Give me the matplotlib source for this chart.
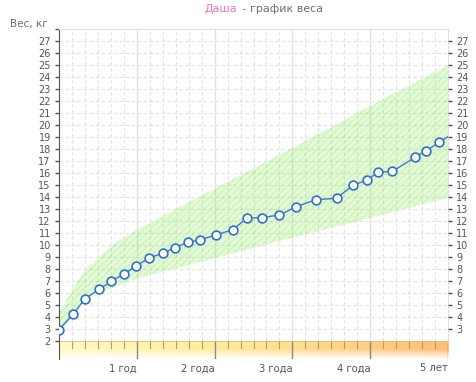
import numpy as np
import matplotlib
matplotlib.use("Agg")
import matplotlib.pyplot as plt

# возраст в месяцах и вес в кг
ages = [0, 2.2, 4.05, 6.2, 8.05, 10.05, 11.9, 13.9, 16.0, 17.9, 19.9, 21.8, 24.2,
        26.8, 29.0, 31.3, 34.0, 36.5, 39.6, 42.8, 45.3, 47.5, 49.2, 51.4, 54.9,
        56.6, 58.6, 61.0]
weights = [2.92, 4.22, 5.53, 6.3, 6.97, 7.58, 8.25, 8.92, 9.31, 9.78, 10.22, 10.44,
           10.83, 11.28, 12.24, 12.28, 12.5, 13.17, 13.78, 13.89, 14.97, 15.42,
           16.06, 16.14, 17.31, 17.86, 18.56, 19.4]

# границы нормы
norm_ages = [0, 2, 4, 8, 12, 24, 36, 48, 60]
norm_upper = [4.3, 6.2, 7.9, 9.9, 11.25, 14.7, 18.1, 21.6, 25.0]
norm_lower = [2.4, 4.0, 5.4, 6.35, 7.2, 8.9, 10.6, 12.25, 13.95]

year_ticks = [12, 24, 36, 48, 60]
year_labels = ["1 год", "2 года", "3 года", "4 года", "5 лет"]

W, H = 476, 382
fig = plt.figure(figsize=(W / 100, H / 100), dpi=100)
plt.rcParams["hatch.linewidth"] = 0.5

left, right, top, bottom = 58.7, 448.3, 29, 341
ax = fig.add_axes([left / W, 1 - bottom / H, (right - left) / W, (bottom - top) / H])
ax.set_xlim(0, 60)
ax.set_ylim(2, 28)

# сетка
dash = (0, (3.0, 2.4))
for y in range(3, 28):
    ax.axhline(y, color="#e2e2e2", lw=0.8, ls=dash, zorder=0.5)
for m in range(2, 60, 2):
    if m % 12 == 0:
        ax.axvline(m, color="#e2e2e2", lw=1, zorder=0.6)
    else:
        ax.axvline(m, color="#e2e2e2", lw=0.8, ls=dash, zorder=0.5)

ax.fill_between(norm_ages, norm_lower, norm_upper, facecolor=(0.55, 0.93, 0.35),
                alpha=0.25, edgecolor="#6cc830", hatch="/////", lw=0, zorder=1)

ax.plot(ages, weights, color="#3a7ad6", lw=1, zorder=3,
        marker="o", ms=6.3, mfc="white", mec="#2f70cc", mew=1.2)

ax.set_yticks(range(2, 29))
ax.set_yticklabels([str(v) for v in range(2, 28)] + [""])
ax.tick_params(axis="y", length=3.2, width=1, color="#555", labelcolor="#555",
               labelsize=7, pad=2.5)
ax.tick_params(axis="x", bottom=False, labelbottom=False)
ax.spines["left"].set_color("#555")
for s in ["top", "right"]:
    ax.spines[s].set_color("#e0e0e0")
ax.spines["bottom"].set_visible(False)

ax2 = ax.twinx()
ax2.set_ylim(2, 28)
ax2.set_yticks(range(3, 28))
ax2.tick_params(axis="y", length=3.2, width=1, color="#555", labelcolor="#555",
                labelsize=7, pad=2.5)
for s in ax2.spines.values():
    s.set_visible(False)

# шкала возраста снизу
band_bottom = 359
bx = fig.add_axes([left / W, 1 - band_bottom / H, (right - left) / W, (band_bottom - bottom) / H])
stops = np.array([[255, 249, 200], [255, 244, 178], [255, 236, 158],
                  [255, 222, 145], [255, 205, 135], [255, 188, 118]]) / 255.0
xs = np.linspace(0, 5, 400)
row = np.stack([np.interp(xs, np.arange(6), stops[:, c]) for c in range(3)], axis=1)
t = np.linspace(0, 1, 40)
wgt = np.clip((1 - t) / 0.55, 0, 1)[:, None, None]
img = row[None, :, :] * wgt + (1 - wgt)
bx.imshow(img, extent=[0, 60, 0, 1], aspect="auto", origin="upper", zorder=0)
bx.set_xlim(0, 60)
bx.set_ylim(0, 1)
bx.axhline(1, color="#dcc07a", lw=1.2, zorder=2)
for m in range(2, 60, 2):
    if m % 12:
        bx.plot([m, m], [1, 0.62], color="#b89a60", lw=0.8, zorder=1)
for m in year_ticks:
    bx.axvline(m, color="#8a8a8a", lw=1, zorder=1)
bx.set_yticks([])
bx.set_xticks(year_ticks)
bx.set_xticklabels(year_labels, ha="right")
bx.tick_params(axis="x", length=0, pad=3, labelsize=7.2, labelcolor="#555")
for s in ["top", "right", "bottom"]:
    bx.spines[s].set_visible(False)
bx.spines["left"].set_color("#555")

fig.text(237 / W, 1 - 9 / H, "Даша", color="#f070c0", fontsize=8, ha="right", va="center")
fig.text(239 / W, 1 - 9 / H, " - график веса", color="#707070", fontsize=8, ha="left", va="center")
fig.text(10 / W, 1 - 24 / H, "Вес, кг", color="#707070", fontsize=7.5, ha="left", va="center")

fig.savefig("out.png", dpi=100)
